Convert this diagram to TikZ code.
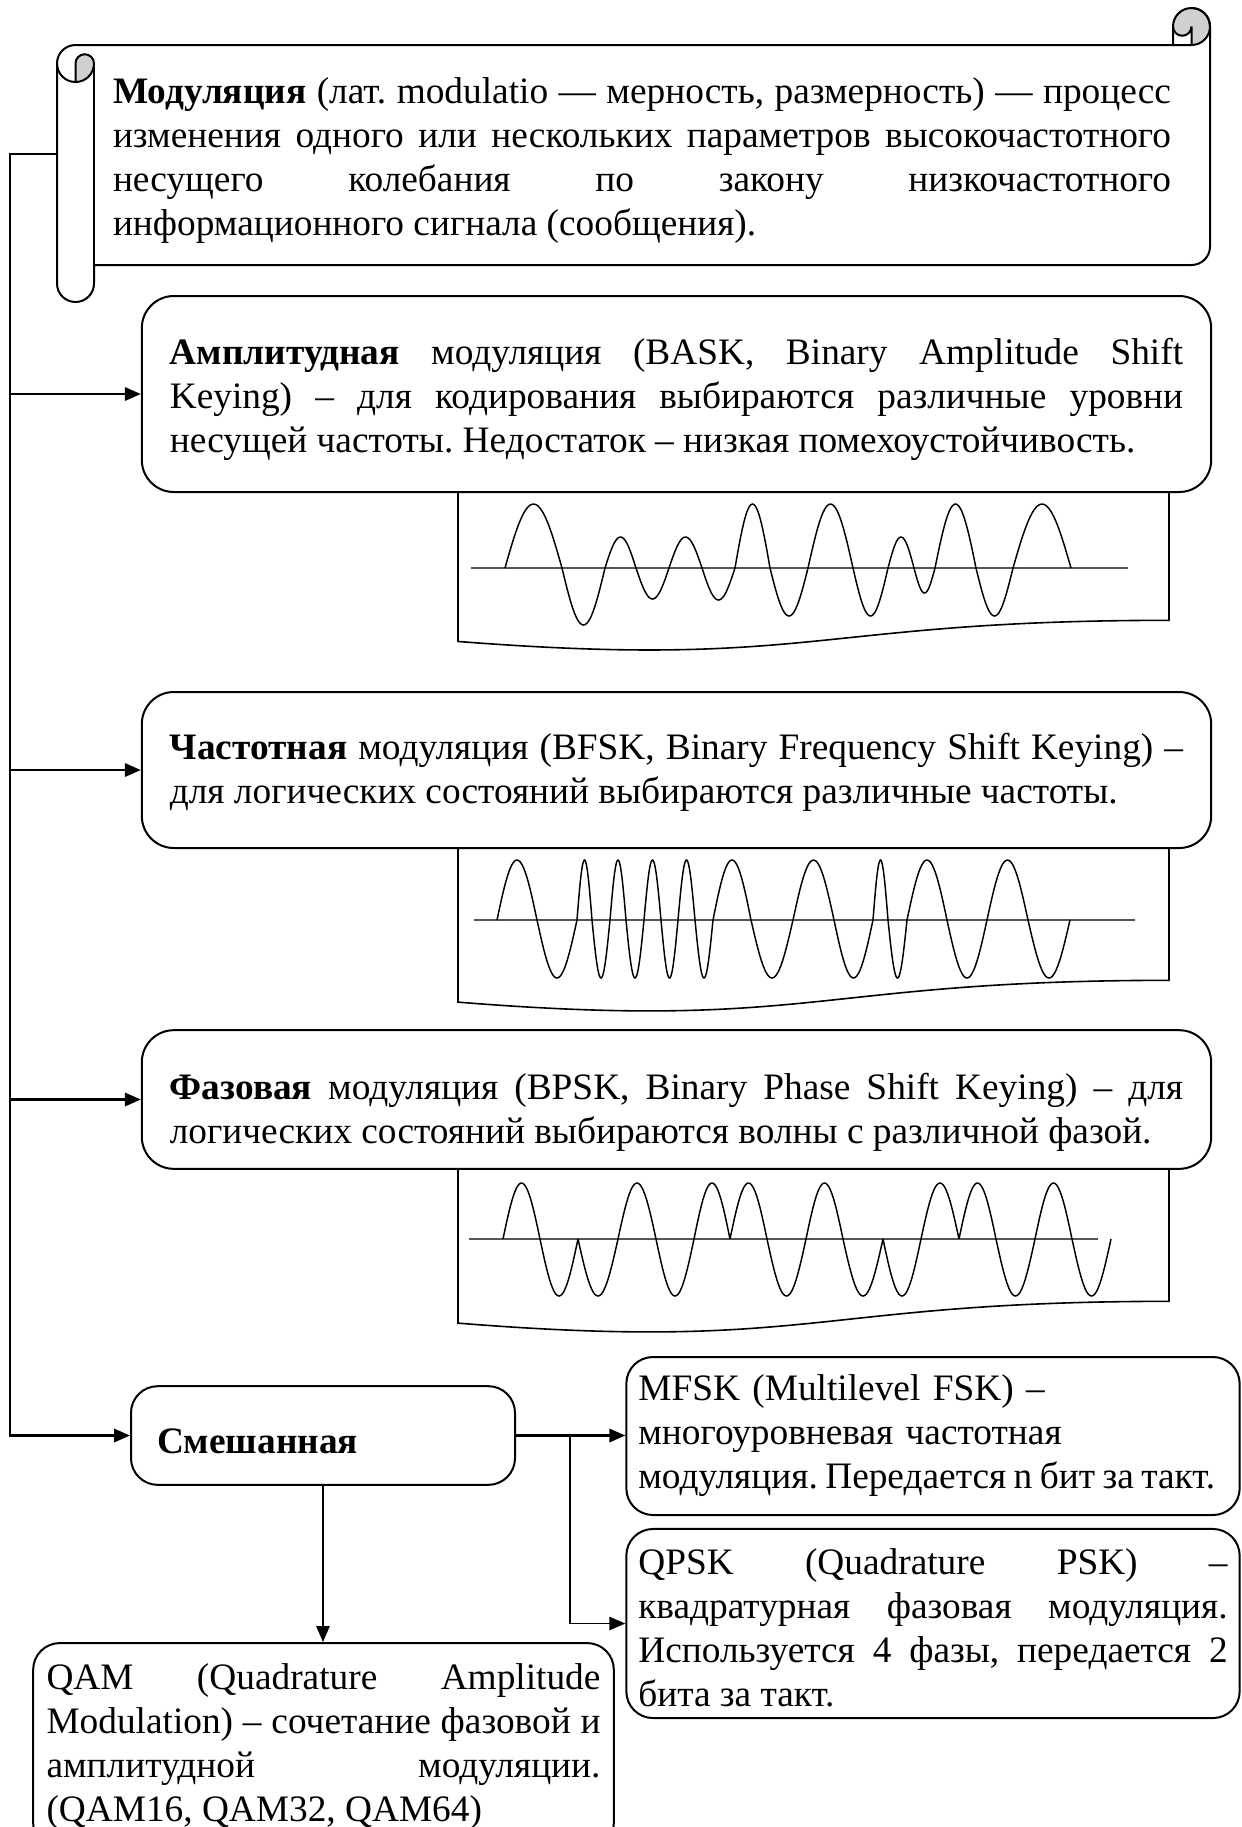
\documentclass[tikz,border=0pt]{standalone}
\usepackage{fontspec}
\setmainfont{Liberation Serif}
\usepackage{tikz}
\usetikzlibrary{arrows.meta}
\definecolor{croll}{HTML}{D0D0D0}
\definecolor{caxis}{HTML}{555555}
\hyphenpenalty=10000
\exhyphenpenalty=10000
\frenchspacing
\tikzset{
  txt/.style={font=\fontsize{14pt}{16.5pt}\selectfont},
  scrolltxt/.style={txt, text width=396.75pt, align=justify, inner sep=0pt},
  modbox/.style={txt, rectangle, rounded corners=12pt, draw, line width=0.75pt, fill=white,
    text width=380pt, align=justify, inner xsep=10.5pt, inner ysep=0pt},
  mixbox/.style={txt, rectangle, rounded corners=10pt, draw, line width=0.75pt, fill=white,
    text width=124.5pt, align=left, inner xsep=9.75pt, minimum height=37pt},
  subbox/.style={txt, rectangle, rounded corners=10pt, draw, line width=0.75pt, fill=white,
    text width=221pt, inner xsep=4.5pt, inner ysep=0pt},
  scroll/.style={line width=0.75pt},
  arr/.style={-{Triangle[length=6pt,width=5pt]}, line width=0.9pt},
  thinarr/.style={-{Triangle[length=6pt,width=5pt]}, line width=0.6pt},
  panel/.style={line width=0.6pt, fill=white},
  wave/.style={line width=0.55pt},
  axisline/.style={line width=0.45pt, draw=caxis},
}
\newcommand{\docpanel}[4]{%
  \draw[panel] (#1,#3) -- (#2,#3) -- (#2,{#3+0.802*#4})
    .. controls ({(#1+#2)/2},{#3+0.802*#4}) and ({(#1+#2)/2},{#3+1.1075*#4}) .. (#1,{#3+0.934*#4}) -- cycle;}
\newcommand{\halfwaves}[2]{%
  \foreach \xa/\xb/\am in {#2}
    \draw[wave] plot[domain=0:180, samples=25] ({\xa+(\xb-\xa)*\x/180},{#1-(\am)*sin(\x)});}

\begin{document}
\begin{tikzpicture}[x=0.375pt, y=-0.375pt]
  \useasboundingbox (0,0) rectangle (1242,1827);

  \fill[croll] (75.5,82) arc[start angle=90, end angle=0, radius=18.5]
    arc[start angle=0, end angle=-180, radius=9.25] -- cycle;
  \fill[croll] (1191.5,45) arc[start angle=90, end angle=-180, radius=18.5]
    arc[start angle=180, end angle=0, radius=9.25] -- cycle;
  \draw[scroll] (57,63.5) arc[start angle=180, end angle=270, radius=18.5]
    -- (1173,45) -- (1173,26.5) arc[start angle=180, end angle=360, radius=18.5]
    -- (1210,246.5) arc[start angle=0, end angle=90, radius=18.5]
    -- (94,265) -- (94,283.5) arc[start angle=0, end angle=180, radius=18.5] -- cycle;
  \draw[scroll] (1173,45) -- (1191.5,45) arc[start angle=90, end angle=-90, radius=18.5];
  \draw[scroll] (1191.5,45) -- (1191.5,26.5) arc[start angle=0, end angle=180, radius=9.25];
  \draw[scroll] (75.5,82) -- (75.5,63.5) arc[start angle=180, end angle=360, radius=9.25]
    arc[start angle=0, end angle=180, radius=18.5];
  \draw[scroll] (94,63.5) -- (94,265);

  \node[scrolltxt] (def) at (642,161) {\textbf{Модуляция} (лат. modulatio — мерность, размерность) — процесс\linebreak
    изменения одного или нескольких параметров высокочастотного\linebreak
    несущего колебания по закону низкочастотного\linebreak
    информационного сигнала (сообщения).};

  \docpanel{458}{1169}{492}{160}
  \draw[axisline] (471,568) -- (1128,568);
  \halfwaves{568}{505/562/64, 562/605/-57, 605/636/31, 636/669/-31, 669/702/31, 702/735/-32,
    735/770/64, 770/808/-48, 808/853/64, 853/888/-48, 888/914/31, 914/935/-25,
    935/976/64, 976/1013/-48, 1013/1071/64}

  \docpanel{458}{1169}{848}{165}
  \draw[axisline] (474,920) -- (1135,920);
  \halfwaves{920}{497/537/60, 537/577/-58, 577/592/60, 592/610/-58, 610/626/60, 626/644/-58,
    644/661/60, 661/678/-58, 678/695/60, 695/713/-58, 713/751/60, 751/793/-58,
    793/834/60, 834/873/-58, 873/888/60, 888/907/-58, 907/947/60, 947/987/-58,
    987/1028/60, 1028/1070/-58}

  \docpanel{458}{1169}{1169}{165}
  \draw[axisline] (469,1239) -- (1098,1239);
  \halfwaves{1239}{503/540/56, 540/578/-57, 578/618/-57, 618/656/56, 656/694/-57, 694/730/56,
    730/767/56, 767/806/-57, 806/843/56, 843/883/-57, 883/921/-57, 921/959/56,
    959/996/56, 996/1035/-57, 1035/1072/56, 1072/1111/-57}

  \node[modbox, minimum height=73.5pt, text height=14.1pt] (ampl) at (676.5,394) {\textbf{Амплитудная} модуляция (BASK, Binary Amplitude Shift\linebreak
    Keying) – для кодирования выбираются различные уровни\linebreak
    несущей частоты. Недостаток – низкая помехоустойчивость.};
  \node[modbox, minimum height=58.5pt, text height=11.5pt] (freq) at (676.5,770) {\textbf{Частотная} модуляция (BFSK, Binary Frequency Shift Keying) –\linebreak
    для логических состояний выбираются различные частоты.};
  \node[modbox, minimum height=52pt, text height=19.3pt] (phase) at (676.5,1099.5) {\textbf{Фазовая} модуляция (BPSK, Binary Phase Shift Keying) – для\linebreak
    логических состояний выбираются волны с различной фазой.};
  \node[mixbox, text height=13.9pt] (mix) at (323,1435.5) {\textbf{Смешанная}};
  \node[subbox, align=left, minimum height=59.25pt] (mfsk) at (933,1436) {MFSK (Multilevel FSK) –\\
    многоуровневая частотная\\
    \mbox{\spaceskip=0.2em модуляция. Передается n бит за такт.}};
  \node[subbox, align=justify, minimum height=70.9pt, text height=12.7pt] (qpsk) at (933,1623.5) {QPSK (Quadrature PSK) –\linebreak
    квадратурная фазовая модуляция.\linebreak
    Используется 4 фазы, передается 2\linebreak
    бита за такт.};
  \node[subbox, align=justify, text width=207.75pt, inner xsep=5pt, minimum height=77.6pt] (qam) at (323.5,1746.5) {QAM (Quadrature Amplitude\linebreak
    Modulation) – сочетание фазовой и\linebreak
    амплитудной модуляции.\linebreak
    (QAM16, QAM32, QAM64)};

  \coordinate (rollL) at (57,154);
  \coordinate (trunk) at (10,154);
  \coordinate (fork) at (570,1436);
  \draw[arr] (rollL) -- (trunk) |- (mix.west);
  \draw[arr] (trunk |- ampl.west) -- (ampl.west);
  \draw[arr] (trunk |- freq.west) -- (freq.west);
  \draw[arr] (trunk |- phase.west) -- (phase.west);
  \draw[arr] (mix.east) -- (mix.east -| mfsk.west);
  \draw[thinarr] (mix.east -| fork) |- (qpsk.west);
  \draw[thinarr] (mix.south) -- (mix.south |- qam.north);
\end{tikzpicture}
\end{document}
